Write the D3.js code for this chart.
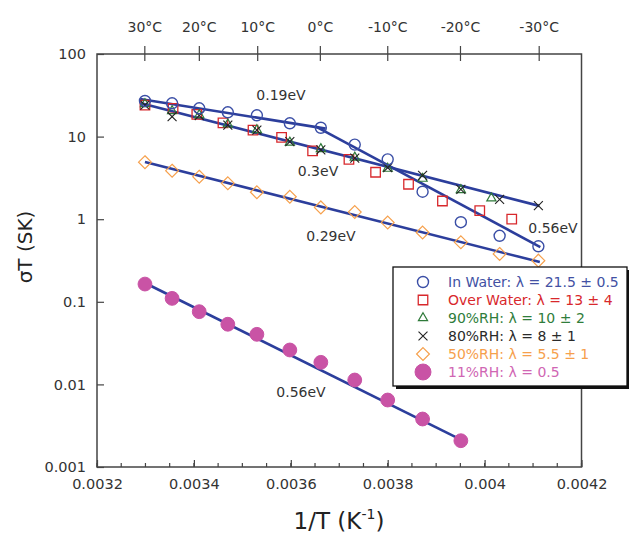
<!DOCTYPE html>
<html>
<head>
<meta charset="utf-8">
<script src="https://cdn.jsdelivr.net/npm/d3@7"></script>
<style>
body { margin: 0; background: #fff; }
text { font-family: "DejaVu Sans", sans-serif; }
</style>
</head>
<body>
<script>
// sigma*T vs 1/T, log scale, fit lines with activation energies

var temps = [30, 25, 20, 15, 10, 5, 0, -5, -10, -15, -20, -25, -30]
var invT = [0.003299, 0.003355, 0.003411, 0.00347, 0.00353, 0.003598, 0.003662,
            0.003732, 0.0038, 0.003872, 0.003951, 0.004031, 0.004111]

var waterY = [27, 25.3, 22.0, 19.7, 18.1, 14.5, 12.8, 8.0, 5.3, 2.15, 0.92, 0.63, 0.47]

var overX = [0.003299, 0.003357, 0.003406, 0.00346, 0.003522, 0.003581, 0.003645,
             0.00372, 0.003775, 0.003843, 0.003913, 0.00399, 0.004056]
var overY = [24.1, 22.0, 18.6, 14.7, 12.0, 9.8, 6.7, 5.3, 3.7, 2.65, 1.66, 1.27, 1.0]

var rh90X = [0.003299, 0.003355, 0.003411, 0.00347, 0.00353, 0.003598, 0.003662,
             0.003732, 0.0038, 0.003872, 0.003951, 0.004014]
var rh90Y = [24.8, 20.4, 18.3, 14.1, 12.0, 8.5, 7.1, 5.6, 4.1, 3.1, 2.26, 1.79]

var rh80Y = [24.1, 17.4, 18.0, 13.8, 12.0, 8.7, 6.9, 5.5, 4.2, 3.4, 2.3, 1.74, 1.46]
var rh50Y = [4.9, 3.87, 3.27, 2.72, 2.12, 1.87, 1.39, 1.22, 0.91, 0.69, 0.525, 0.38, 0.315]
var rh11Y = [0.164, 0.110, 0.0759, 0.0535, 0.0404, 0.0261, 0.0185, 0.0113, 0.00647, 0.00381, 0.00208]

// fit lines: [x0, y0, x1, y1]
var fitLines = [[0.003289, 28.5, 0.003672, 12.5],
                [0.00365, 13.4, 0.004115, 0.46],
                [0.003289, 25.5, 0.004113, 1.45],
                [0.003299, 4.92, 0.004114, 0.303],
                [0.003299, 0.169, 0.003953, 0.00212]]

var fitLabels = ["0.19eV", "0.56eV", "0.3eV", "0.29eV", "0.56eV"]

var topTemps = [30, 20, 10, 0, -10, -20, -30]
var yTicks = [0.001, 0.01, 0.1, 1, 10, 100]
var xTicks = [0.0032, 0.0034, 0.0036, 0.0038, 0.004, 0.0042]

var legendNames = ["In Water: \u03bb = 21.5 \u00b1 0.5",
                   "Over Water: \u03bb = 13 \u00b1 4",
                   "90%RH: \u03bb = 10 \u00b1 2",
                   "80%RH: \u03bb = 8 \u00b1 1",
                   "50%RH: \u03bb = 5.5 \u00b1 1",
                   "11%RH: \u03bb = 0.5"]
var markerColors = ["#3a4ea6", "#d8282c", "#2f7a3a", "#222222", "#f6a04c", "#c953a5"]
var textColors = ["#4251a3", "#d8282c", "#2f7d3b", "#2a2a2a", "#f6a04c", "#d066b3"]

var screen = {width: 629, height: 534}
var plot = {left: 97, right: 581.5, top: 54, bottom: 467}

var xScale = d3.scaleLinear()
                .domain([0.0032, 0.0042])
                .range([plot.left, plot.right])

var yScale = d3.scaleLog()
                .domain([0.001, 100])
                .range([plot.bottom, plot.top])

var svg = d3.select("body")
    .append("svg")
    .attr("width", screen.width)
    .attr("height", screen.height)

var axisColor = "#444"

// frame
svg.append("rect")
    .attr("x", plot.left)
    .attr("y", plot.top)
    .attr("width", plot.right - plot.left)
    .attr("height", plot.bottom - plot.top)
    .attr("fill", "none")
    .attr("stroke", axisColor)
    .attr("stroke-width", 1.5)

// bottom axis, ticks inward
var xAxis = d3.axisBottom(xScale)
    .tickValues(xTicks)
    .tickSize(-7)
    .tickPadding(12)
    .tickFormat(function(d) { return String(+d.toFixed(4)) })

var gx = svg.append("g")
    .attr("transform", "translate(0," + plot.bottom + ")")
    .call(xAxis)
gx.select(".domain").remove()

var minorX = d3.range(0, 21).map(function(i) { return 0.0032 + i * 0.00005 })
gx.selectAll(".minor")
    .data(minorX)
    .enter()
    .append("line")
    .attr("x1", function(d) { return xScale(d) })
    .attr("x2", function(d) { return xScale(d) })
    .attr("y1", 0)
    .attr("y2", -4)
    .attr("stroke", axisColor)
    .attr("stroke-width", 1.2)

// left axis
var yAxis = d3.axisLeft(yScale)
    .tickValues(yTicks)
    .tickSize(-7)
    .tickPadding(11)
    .tickFormat(function(d) { return String(d) })

var gy = svg.append("g")
    .attr("transform", "translate(" + plot.left + ",0)")
    .call(yAxis)
gy.select(".domain").remove()

// top temperature axis
var tScale = function(c) { return xScale(1 / (c + 273.15)) }
var gt = svg.append("g")
gt.selectAll("line")
    .data(topTemps)
    .enter()
    .append("line")
    .attr("x1", function(d) { return tScale(d) })
    .attr("x2", function(d) { return tScale(d) })
    .attr("y1", plot.top - 8)
    .attr("y2", plot.top + 7)
    .attr("stroke", axisColor)
    .attr("stroke-width", 1.2)
gt.selectAll("text")
    .data(topTemps)
    .enter()
    .append("text")
    .attr("x", function(d) { return tScale(d) })
    .attr("y", 32)
    .attr("text-anchor", "middle")
    .attr("font-size", 14)
    .attr("fill", "#333")
    .text(function(d) { return d + "\u00b0C" })

svg.selectAll(".tick text")
    .attr("font-size", 14.5)
    .attr("fill", "#333")
    .style("font-family", "DejaVu Sans, sans-serif")
svg.selectAll(".tick line")
    .attr("stroke", axisColor)
    .attr("stroke-width", 1.2)

// axis titles
svg.append("text")
    .attr("transform", "translate(32,247) rotate(-90)")
    .attr("text-anchor", "middle")
    .attr("font-size", 20)
    .attr("fill", "#222")
    .text("\u03c3T (SK)")

var xt = svg.append("text")
    .attr("x", 339)
    .attr("y", 529)
    .attr("text-anchor", "middle")
    .attr("font-size", 23)
    .attr("fill", "#222")
xt.append("tspan").text("1/T (K")
xt.append("tspan").attr("font-size", 14).attr("dy", -10).text("-1")
xt.append("tspan").attr("dy", 10).text(")")

// fit lines
var line = d3.line()
    .x(function(d) { return xScale(d[0]) })
    .y(function(d) { return yScale(d[1]) })

svg.append("g")
    .selectAll("path")
    .data(fitLines)
    .enter()
    .append("path")
    .attr("d", function(f) { return line([[f[0], f[1]], [f[2], f[3]]]) })
    .attr("fill", "none")
    .attr("stroke", "#2c3e9c")
    .attr("stroke-width", 2.6)

// fit labels
var labelPos = [[281, 100], [553, 233], [318, 176], [331, 241], [301, 397]]
svg.append("g")
    .selectAll("text")
    .data(fitLabels)
    .enter()
    .append("text")
    .attr("x", function(d, i) { return labelPos[i][0] })
    .attr("y", function(d, i) { return labelPos[i][1] })
    .attr("text-anchor", "middle")
    .attr("font-size", 14)
    .attr("fill", "#333")
    .text(function(d) { return d })

// markers
var toPts = function(xs, ys) { return ys.map(function(y, i) { return [xs[i], y] }) }

var sym = function(type, size) { return d3.symbol().type(type).size(size)() }

var drawSeries = function(pts, type, size, color, filled, sw)
{
    svg.append("g")
        .selectAll("path")
        .data(pts)
        .enter()
        .append("path")
        .attr("transform", function(d) { return "translate(" + xScale(d[0]) + "," + yScale(d[1]) + ")" })
        .attr("d", sym(type, size))
        .attr("fill", filled ? color : "none")
        .attr("stroke", color)
        .attr("stroke-width", sw)
}

var cross = {draw: function(ctx, size) {
    var r = Math.sqrt(size) / 2
    ctx.moveTo(-r, -r); ctx.lineTo(r, r)
    ctx.moveTo(r, -r); ctx.lineTo(-r, r)
}}

drawSeries(toPts(invT, rh50Y), d3.symbolDiamond2, 105, markerColors[4], false, 1.2)
drawSeries(toPts(invT.slice(0, 11), rh11Y), d3.symbolCircle, 150, markerColors[5], true, 1)
drawSeries(toPts(overX, overY), d3.symbolSquare2, 115, markerColors[1], false, 1.3)
drawSeries(toPts(rh90X, rh90Y), d3.symbolTriangle2, 60, markerColors[2], false, 1.2)
drawSeries(toPts(invT, rh80Y), cross, 80, markerColors[3], false, 1.1)
drawSeries(toPts(invT, waterY), d3.symbolCircle, 95, markerColors[0], false, 1.4)

// legend
var lg = svg.append("g").attr("transform", "translate(393,267)")
lg.append("rect")
    .attr("x", 3).attr("y", 3)
    .attr("width", 234).attr("height", 119)
    .attr("fill", "#111")
lg.append("rect")
    .attr("width", 234).attr("height", 119)
    .attr("fill", "#fff")
    .attr("stroke", "#111")
    .attr("stroke-width", 1.3)

var legendSyms = [[d3.symbolCircle, 95, false, 1.4], [d3.symbolSquare2, 115, false, 1.3],
                  [d3.symbolTriangle2, 60, false, 1.2], [cross, 80, false, 1.1],
                  [d3.symbolDiamond2, 105, false, 1.2], [d3.symbolCircle, 200, true, 1]]

var rows = lg.selectAll(".row")
    .data(legendNames)
    .enter()
    .append("g")
    .attr("transform", function(d, i) { return "translate(0," + (15 + i * 18) + ")" })

rows.append("path")
    .attr("transform", "translate(30,0)")
    .attr("d", function(d, i) { return sym(legendSyms[i][0], legendSyms[i][1]) })
    .attr("fill", function(d, i) { return legendSyms[i][2] ? markerColors[i] : "none" })
    .attr("stroke", function(d, i) { return markerColors[i] })
    .attr("stroke-width", function(d, i) { return legendSyms[i][3] })

rows.append("text")
    .attr("x", 55)
    .attr("y", 5)
    .attr("font-size", 14)
    .attr("fill", function(d, i) { return textColors[i] })
    .text(function(d) { return d })
</script>
</body>
</html>
